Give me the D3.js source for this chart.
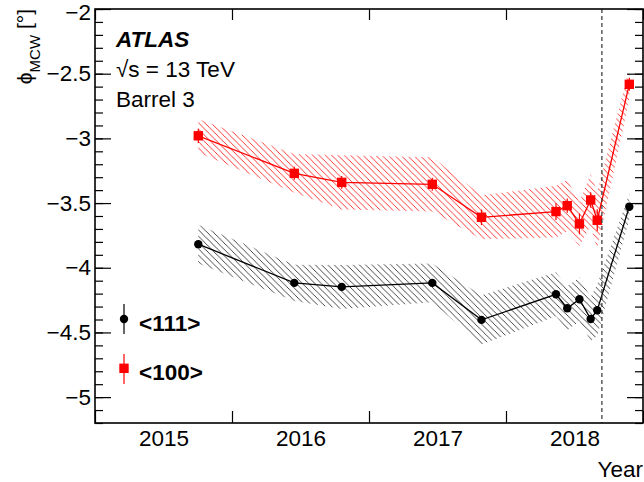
<!DOCTYPE html>
<html><head><meta charset="utf-8">
<script src="https://cdn.jsdelivr.net/npm/d3@7"></script>
<style>
body{margin:0;background:#fff}
svg{display:block}
text{font-family:"Liberation Sans",Arial,Helvetica,sans-serif;fill:#000}
</style>
</head><body>
<svg id="c" width="644" height="482"></svg>
<script>
// ---- data ----
const years   = [2015.754, 2016.455, 2016.801, 2017.462, 2017.821, 2018.365, 2018.447, 2018.536, 2018.618, 2018.666, 2018.900];
const val100  = [-2.98, -3.27, -3.34, -3.355, -3.61, -3.566, -3.52, -3.661, -3.476, -3.633, -2.582];
const stat100 = [0.055, 0.05, 0.05, 0.05, 0.06, 0.065, 0.055, 0.08, 0.06, 0.085, 0.05];
const syst100 = [0.13, 0.15, 0.21, 0.21, 0.17, 0.2, 0.2, 0.17, 0.2, 0.22, 0.12];
const val111  = [-3.818, -4.117, -4.148, -4.117, -4.403, -4.205, -4.313, -4.243, -4.396, -4.328, -3.528];
const stat111 = [0.02, 0.02, 0.02, 0.02, 0.02, 0.02, 0.02, 0.02, 0.02, 0.02, 0.02];
const syst111 = [0.15, 0.14, 0.17, 0.15, 0.19, 0.17, 0.17, 0.17, 0.17, 0.2, 0.1];
const xTickYears = [2015, 2016, 2017, 2018, 2019];
const xLabelYears = [2015.5, 2016.5, 2017.5, 2018.5];
const xLabels = ["2015", "2016", "2017", "2018"];
const yMajor = [-5, -4.5, -4, -3.5, -3, -2.5, -2];
const yMinor = d3.range(-52, -19).map(d => d / 10);
const cutYear = 2018.70;
const seriesNames = ["<111>", "<100>"];

// ---- layout ----
const FS = 22.5;
const L = 95, R = 643, T = 9, B = 423;
const svg = d3.select("#c");
const x = d3.scaleLinear().domain([2015, 2019]).range([L, R]);
const y = d3.scaleLinear().domain([-5.2, -2]).range([B, T]);
const fmt = d => (d < 0 ? "\u2212" : "") + Math.abs(d);

const defs = svg.append("defs");
function hatch(id, color, w) {
  const s = 6.3;
  const p = defs.append("pattern").attr("id", id).attr("patternUnits", "userSpaceOnUse")
    .attr("width", s).attr("height", s);
  p.append("path").attr("d", `M0,0L${s},${s}M${-s/2},${s/2}L${s/2},${s*1.5}M${s/2},${-s/2}L${s*1.5},${s/2}`)
    .attr("stroke", color).attr("stroke-width", w).attr("fill", "none");
}
hatch("hr", "#ff2020", 0.9);
hatch("hb", "#333", 0.9);
defs.append("clipPath").attr("id", "clip").append("rect")
  .attr("x", L).attr("y", T).attr("width", R - L).attr("height", B - T);

const plot = svg.append("g").attr("clip-path", "url(#clip)");

function series(vals, stat, syst, color, patt, marker) {
  const idx = d3.range(years.length);
  const area = d3.area().x(i => x(years[i])).y0(i => y(vals[i] - syst[i])).y1(i => y(vals[i] + syst[i]));
  plot.append("path").attr("d", area(idx)).attr("fill", `url(#${patt})`).attr("stroke", "none");
  const line = d3.line().x(i => x(years[i])).y(i => y(vals[i]));
  plot.append("path").attr("d", line(idx)).attr("fill", "none").attr("stroke", color).attr("stroke-width", 1.3);
  plot.selectAll(null).data(idx).enter().append("line")
    .attr("x1", i => x(years[i])).attr("x2", i => x(years[i]))
    .attr("y1", i => y(vals[i] - stat[i])).attr("y2", i => y(vals[i] + stat[i]))
    .attr("stroke", color).attr("stroke-width", 1.2);
  if (marker === "circle") {
    plot.selectAll(null).data(idx).enter().append("circle")
      .attr("cx", i => x(years[i])).attr("cy", i => y(vals[i])).attr("r", 4.2).attr("fill", color);
  } else {
    plot.selectAll(null).data(idx).enter().append("rect")
      .attr("x", i => x(years[i]) - 4.7).attr("y", i => y(vals[i]) - 4.7)
      .attr("width", 9.4).attr("height", 9.4).attr("fill", color);
  }
}
series(val100, stat100, syst100, "#ff0000", "hr", "square");
series(val111, stat111, syst111, "#000000", "hb", "circle");

// dashed vertical line
svg.append("line").attr("x1", x(cutYear)).attr("x2", x(cutYear)).attr("y1", T).attr("y2", B)
  .attr("stroke", "#333").attr("stroke-width", 1.2).attr("stroke-dasharray", "4,3");

// axes
const axStyle = g => { g.select(".domain").remove(); g.selectAll("line").attr("stroke", "#000").attr("stroke-width", 1.2); };
const txtStyle = g => g.selectAll("text").attr("font-size", FS).style("font-family", "'Liberation Sans',Arial,sans-serif");
svg.append("g").attr("transform", `translate(${L},0)`)
  .call(d3.axisLeft(y).tickValues(yMinor).tickSizeInner(-8).tickSizeOuter(0).tickFormat("")).call(axStyle);
svg.append("g").attr("transform", `translate(${L},0)`)
  .call(d3.axisLeft(y).tickValues(yMajor).tickSizeInner(-16).tickSizeOuter(0).tickPadding(4).tickFormat(fmt))
  .call(axStyle).call(txtStyle)
  .call(g => g.selectAll(".tick").filter(d => d === -2).select("text").attr("dy", "0.32em").attr("y", 3.5));
svg.append("g").attr("transform", `translate(${R},0)`)
  .call(d3.axisRight(y).tickValues(yMinor).tickSizeInner(-8).tickSizeOuter(0).tickFormat("")).call(axStyle);
svg.append("g").attr("transform", `translate(${R},0)`)
  .call(d3.axisRight(y).tickValues(yMajor).tickSizeInner(-16).tickSizeOuter(0).tickFormat("")).call(axStyle);
svg.append("g").attr("transform", `translate(0,${B})`)
  .call(d3.axisBottom(x).tickValues(xTickYears).tickSizeInner(-12).tickSizeOuter(0).tickFormat("")).call(axStyle);
svg.append("g").attr("transform", `translate(0,${T})`)
  .call(d3.axisTop(x).tickValues(xTickYears).tickSizeInner(-11).tickSizeOuter(0).tickFormat("")).call(axStyle);
svg.append("g").attr("transform", `translate(0,${B})`)
  .call(d3.axisBottom(x).tickValues(xLabelYears).tickSize(0).tickPadding(7).tickFormat((d, i) => xLabels[i]))
  .call(g => g.select(".domain").remove()).call(txtStyle);

// frame
svg.append("rect").attr("x", L).attr("y", T).attr("width", R - L).attr("height", B - T)
  .attr("fill", "none").attr("stroke", "#000").attr("stroke-width", 1.6);

// axis titles
svg.append("text").attr("x", R).attr("y", 477).attr("text-anchor", "end").attr("font-size", FS).text("Year");
const yt = svg.append("text").attr("transform", "translate(32,9) rotate(-90)").attr("text-anchor", "end").attr("font-size", 21);
yt.append("tspan").text("\u03D5");
yt.append("tspan").attr("font-size", 15).attr("dy", 8).text("MCW");
yt.append("tspan").attr("dy", -8).text(" [\u00B0]");

// labels
svg.append("text").attr("x", 116).attr("y", 47).attr("font-size", FS).attr("font-weight", "bold").attr("font-style", "italic").text("ATLAS");
svg.append("text").attr("x", 116).attr("y", 77).attr("font-size", FS).text("\u221As = 13 TeV");
svg.append("text").attr("x", 116).attr("y", 107).attr("font-size", FS).text("Barrel 3");

// legend
const lg = svg.append("g");
lg.append("line").attr("x1", 124).attr("x2", 124).attr("y1", 304).attr("y2", 334).attr("stroke", "#000").attr("stroke-width", 1.2);
lg.append("circle").attr("cx", 124).attr("cy", 319).attr("r", 4.2).attr("fill", "#000");
lg.append("text").attr("x", 139).attr("y", 331).attr("font-size", FS).attr("font-weight", "bold").text(seriesNames[0]);
lg.append("line").attr("x1", 124).attr("x2", 124).attr("y1", 354).attr("y2", 384).attr("stroke", "#ff0000").attr("stroke-width", 1.2);
lg.append("rect").attr("x", 119.3).attr("y", 363.6).attr("width", 9.4).attr("height", 9.4).attr("fill", "#ff0000");
lg.append("text").attr("x", 139).attr("y", 380).attr("font-size", FS).attr("font-weight", "bold").text(seriesNames[1]);
</script>
</body></html>
